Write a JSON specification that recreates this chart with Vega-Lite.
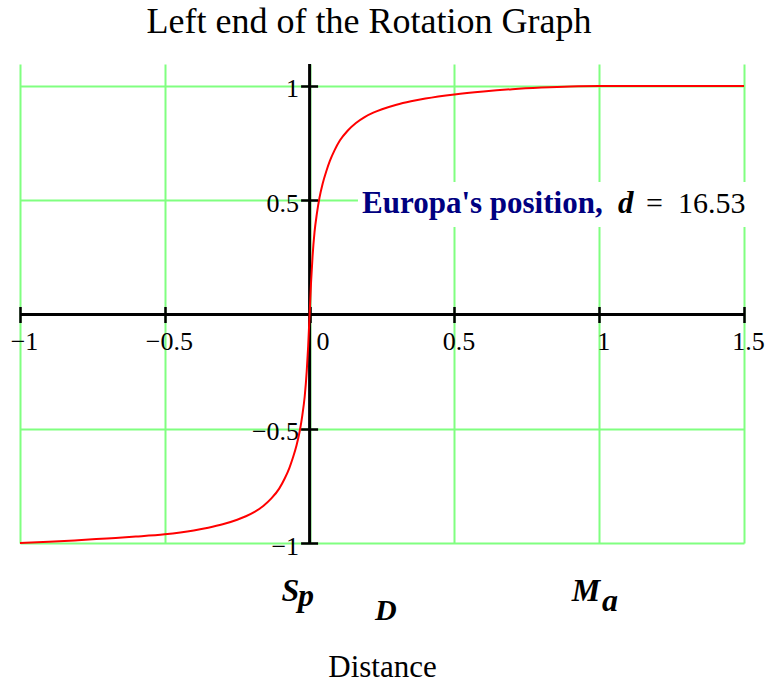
{
  "$schema": "https://vega.github.io/schema/vega-lite/v6.json",
  "width": 724,
  "height": 479,
  "autosize": {"type": "none"},
  "padding": {"left": 20, "top": 64, "right": 39, "bottom": 139},
  "background": "white",
  "config": {"view": {"stroke": null}, "font": "Liberation Serif"},
  "title": {"text": "Left end of the Rotation Graph", "font": "Liberation Serif", "fontSize": 36, "fontWeight": "normal", "color": "black", "anchor": "middle", "dx": -13, "offset": 22},
  "data": {"values": [{}]},
  "datasets": {
    "curve": [
      {"distance": -1.0, "rotation": -1.0},
      {"distance": -0.9, "rotation": -0.995},
      {"distance": -0.8, "rotation": -0.988},
      {"distance": -0.7, "rotation": -0.98},
      {"distance": -0.6, "rotation": -0.972},
      {"distance": -0.5, "rotation": -0.962},
      {"distance": -0.4, "rotation": -0.945},
      {"distance": -0.35, "rotation": -0.933},
      {"distance": -0.3, "rotation": -0.918},
      {"distance": -0.25, "rotation": -0.898},
      {"distance": -0.22, "rotation": -0.883},
      {"distance": -0.19, "rotation": -0.864},
      {"distance": -0.16, "rotation": -0.838},
      {"distance": -0.132, "rotation": -0.805},
      {"distance": -0.105, "rotation": -0.762},
      {"distance": -0.086, "rotation": -0.718},
      {"distance": -0.07, "rotation": -0.672},
      {"distance": -0.058, "rotation": -0.628},
      {"distance": -0.045, "rotation": -0.572},
      {"distance": -0.034, "rotation": -0.51},
      {"distance": -0.025, "rotation": -0.44},
      {"distance": -0.017, "rotation": -0.36},
      {"distance": -0.01, "rotation": -0.25},
      {"distance": -0.005, "rotation": -0.14},
      {"distance": 0.0, "rotation": 0.0},
      {"distance": 0.005, "rotation": 0.14},
      {"distance": 0.01, "rotation": 0.25},
      {"distance": 0.017, "rotation": 0.36},
      {"distance": 0.025, "rotation": 0.44},
      {"distance": 0.034, "rotation": 0.51},
      {"distance": 0.045, "rotation": 0.572},
      {"distance": 0.058, "rotation": 0.628},
      {"distance": 0.07, "rotation": 0.672},
      {"distance": 0.086, "rotation": 0.718},
      {"distance": 0.105, "rotation": 0.762},
      {"distance": 0.132, "rotation": 0.805},
      {"distance": 0.16, "rotation": 0.838},
      {"distance": 0.19, "rotation": 0.864},
      {"distance": 0.22, "rotation": 0.883},
      {"distance": 0.25, "rotation": 0.898},
      {"distance": 0.3, "rotation": 0.918},
      {"distance": 0.35, "rotation": 0.933},
      {"distance": 0.4, "rotation": 0.945},
      {"distance": 0.5, "rotation": 0.963},
      {"distance": 0.6, "rotation": 0.976},
      {"distance": 0.7, "rotation": 0.986},
      {"distance": 0.8, "rotation": 0.993},
      {"distance": 0.9, "rotation": 0.998},
      {"distance": 1.0, "rotation": 1.0},
      {"distance": 1.2, "rotation": 1.0},
      {"distance": 1.5, "rotation": 1.0}
    ]
  },
  "layer": [
    {
      "mark": {"type": "rule", "color": "black", "strokeWidth": 3},
      "encoding": {
        "y": {"datum": 0, "type": "quantitative", "scale": {"domain": [-1, 1.096], "nice": false, "zero": false}}
      }
    },
    {
      "mark": {"type": "rule", "color": "black", "strokeWidth": 3},
      "encoding": {
        "x": {"datum": 0, "type": "quantitative", "scale": {"domain": [-1, 1.5], "nice": false, "zero": false}}
      }
    },
    {
      "data": {"name": "curve"},
      "mark": {"type": "line", "color": "#ff0000", "strokeWidth": 2, "interpolate": "monotone"},
      "encoding": {
        "x": {
          "field": "distance", "type": "quantitative",
          "scale": {"domain": [-1, 1.5], "nice": false, "zero": false},
          "axis": {
            "orient": "bottom", "offset": -236.5,
            "values": [-1, -0.5, 0, 0.5, 1, 1.5], "format": "~g",
            "domain": false, "ticks": true, "tickSize": 16, "tickWidth": 2.5, "tickColor": "black",
            "labelFont": "Liberation Serif", "labelFontSize": 26, "labelColor": "black",
            "labelPadding": 6, "labelBaseline": "top", "labelFlush": false, "labelOverlap": false,
            "labelOffset": {"condition": {"test": "datum.value === 0", "value": 13}, "value": 4},
            "grid": true, "gridColor": "#80ff80", "gridWidth": 2, "gridOpacity": 1,
            "title": "Distance", "titleFont": "Liberation Serif", "titleFontSize": 31, "titleFontWeight": "normal",
            "titleColor": "black", "titleBaseline": "alphabetic", "titleY": 369.5
          }
        },
        "y": {
          "field": "rotation", "type": "quantitative",
          "scale": {"domain": [-1, 1.096], "nice": false, "zero": false},
          "axis": {
            "orient": "left", "offset": -297.6,
            "values": [-1, -0.5, 0, 0.5, 1], "format": "~g",
            "domain": false, "ticks": true, "tickSize": 17, "tickWidth": 2.5, "tickColor": "black",
            "labelFont": "Liberation Serif", "labelFontSize": 26, "labelColor": "black",
            "labelPadding": 2, "labelOffset": 3, "labelFlush": false, "labelOverlap": false,
            "labelExpr": "datum.value === 0 ? '' : datum.label",
            "grid": true, "gridColor": "#80ff80", "gridWidth": 2, "gridOpacity": 1,
            "title": null
          }
        }
      }
    },
    {
      "mark": {"type": "rect", "color": "white"},
      "encoding": {
        "x": {"datum": 0.167, "type": "quantitative"},
        "x2": {"datum": 1.51},
        "y": {"datum": 0.383, "type": "quantitative"},
        "y2": {"datum": 0.58}
      }
    },
    {
      "mark": {"type": "text", "text": "Europa's position,", "font": "Liberation Serif", "fontSize": 31, "fontWeight": "bold", "color": "#000080", "align": "left", "baseline": "alphabetic"},
      "encoding": {"x": {"datum": 0.181, "type": "quantitative"}, "y": {"datum": 0.443, "type": "quantitative"}}
    },
    {
      "mark": {"type": "text", "text": "d", "font": "Liberation Serif", "fontSize": 31, "fontWeight": "bold", "fontStyle": "italic", "color": "black", "align": "left", "baseline": "alphabetic"},
      "encoding": {"x": {"datum": 1.065, "type": "quantitative"}, "y": {"datum": 0.443, "type": "quantitative"}}
    },
    {
      "mark": {"type": "text", "text": "=", "font": "Liberation Serif", "fontSize": 30, "color": "black", "align": "left", "baseline": "alphabetic"},
      "encoding": {"x": {"datum": 1.162, "type": "quantitative"}, "y": {"datum": 0.443, "type": "quantitative"}}
    },
    {
      "mark": {"type": "text", "text": "16.53", "font": "Liberation Serif", "fontSize": 30, "color": "black", "align": "left", "baseline": "alphabetic"},
      "encoding": {"x": {"datum": 1.272, "type": "quantitative"}, "y": {"datum": 0.443, "type": "quantitative"}}
    },
    {
      "mark": {"type": "text", "text": "S", "font": "Liberation Serif", "fontSize": 32, "fontWeight": "bold", "fontStyle": "italic", "color": "black", "align": "left", "baseline": "alphabetic"},
      "encoding": {"x": {"datum": -0.097, "type": "quantitative"}, "y": {"datum": -1.252, "type": "quantitative"}}
    },
    {
      "mark": {"type": "text", "text": "p", "font": "Liberation Serif", "fontSize": 32, "fontWeight": "bold", "fontStyle": "italic", "color": "black", "align": "left", "baseline": "alphabetic"},
      "encoding": {"x": {"datum": -0.04, "type": "quantitative"}, "y": {"datum": -1.276, "type": "quantitative"}}
    },
    {
      "mark": {"type": "text", "text": "D", "font": "Liberation Serif", "fontSize": 30, "fontWeight": "bold", "fontStyle": "italic", "color": "black", "align": "left", "baseline": "alphabetic"},
      "encoding": {"x": {"datum": 0.226, "type": "quantitative"}, "y": {"datum": -1.337, "type": "quantitative"}}
    },
    {
      "mark": {"type": "text", "text": "M", "font": "Liberation Serif", "fontSize": 32, "fontWeight": "bold", "fontStyle": "italic", "color": "black", "align": "left", "baseline": "alphabetic"},
      "encoding": {"x": {"datum": 0.905, "type": "quantitative"}, "y": {"datum": -1.252, "type": "quantitative"}}
    },
    {
      "mark": {"type": "text", "text": "a", "font": "Liberation Serif", "fontSize": 32, "fontWeight": "bold", "fontStyle": "italic", "color": "black", "align": "left", "baseline": "alphabetic"},
      "encoding": {"x": {"datum": 1.0097, "type": "quantitative"}, "y": {"datum": -1.298, "type": "quantitative"}}
    }
  ]
}
